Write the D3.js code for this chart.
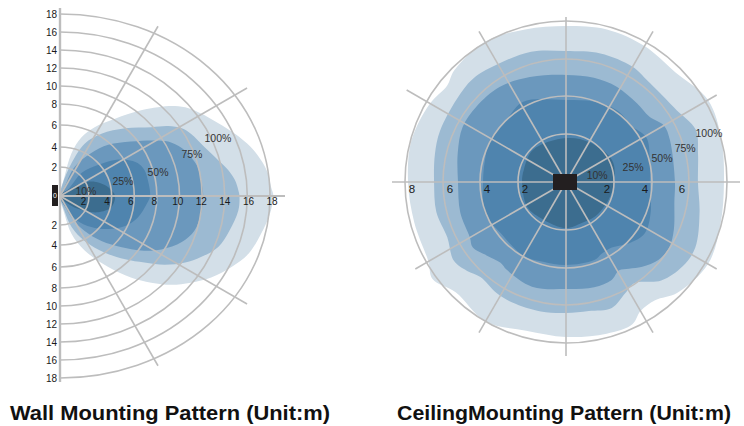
<!DOCTYPE html>
<html><head><meta charset="utf-8">
<script src="https://cdn.jsdelivr.net/npm/d3@7"></script>
<style>body{margin:0;background:#fff} svg{display:block} text{font-family:"Liberation Sans",Arial,Helvetica,sans-serif}</style>
</head><body><svg id="c" width="744" height="426"></svg>
<script>
// ---------- DATA ----------
const levels = ["100%", "75%", "50%", "25%", "10%"];
const levelColors = ["#d3dfe8", "#9cbad2", "#6b98bd", "#4f84ae", "#3c6d8f"];
const titles = ["Wall Mounting Pattern (Unit:m)", "CeilingMounting Pattern (Unit:m)"];

// Wall mounting: contour outlines in metres [x (forward), y (sideways)]
const wall100 = [[0,0],[0.3,1.3],[0.8,3.4],[1.5,4.9],[2.5,5.8],[4.3,6.6],[6.6,7.4],[8.1,7.7],[9.6,7.8],[10.8,7.6],[11.9,7.1],[13.4,6.2],[14.9,5.2],[16.3,4.0],[17.2,2.7],[17.8,1.6],[18.1,0.6],[18.3,0],
  [18.0,-1.2],[17.2,-2.9],[16.1,-4.8],[14.6,-6.0],[12.8,-7.0],[11.0,-7.5],[9.3,-7.7],[7.5,-7.5],[5.7,-7.0],[3.7,-6.0],[1.7,-4.5],[0.8,-2.9],[0.3,-1.2]];
const wall75 = [[0,0],[0.2,0.9],[0.8,2.4],[1.7,4.3],[3.1,5.2],[5.2,5.7],[7.5,5.8],[9.0,5.9],[10.2,5.7],[11.0,5.2],[12.2,4.0],[13.4,2.7],[14.3,1.8],[14.9,1.1],[15.2,0.4],[15.3,0],
  [15.2,-1.0],[14.4,-2.6],[13.4,-4.2],[11.9,-5.1],[10.5,-5.6],[8.7,-5.8],[6.9,-5.6],[5.2,-5.3],[3.4,-4.7],[1.7,-3.6],[0.8,-2.2],[0.3,-1.0]];
const wall50 = [[0,0],[0.3,0.6],[1.0,2.0],[2.2,3.4],[3.7,4.2],[5.7,4.5],[7.8,4.6],[9.0,4.5],[10.2,3.9],[11.0,3.0],[11.6,2.0],[11.9,1.1],[12.1,0],
  [11.9,-1.2],[11.3,-2.6],[10.2,-3.7],[8.4,-4.4],[6.6,-4.5],[4.9,-4.2],[3.1,-3.6],[1.7,-2.6],[0.8,-1.5],[0.3,-0.6]];
const wall25 = [[0,0],[0.6,0.5],[1.5,1.6],[2.8,2.2],[4.3,2.7],[5.4,2.7],[6.3,2.4],[6.9,1.8],[7.2,1.1],[7.4,0],
  [7.1,-0.55],[6.3,-1.5],[5.2,-2.1],[3.7,-2.4],[2.2,-2.2],[1.2,-1.7],[0.55,-1.0]];
const wall10 = [[0,0],[0.55,0.41],[1.47,0.88],[2.5,0.99],[3.39,0.76],[3.97,0.41],[4.3,0],
  [3.97,-0.78],[2.8,-1.12],[1.7,-1.01],[0.78,-0.67]];
const wallRings = [2,4,6,8,10,12,14,16,18];
const wallTicks = [2,4,6,8,10,12,14,16,18];
const wallSpokes = [30,60,-30,-60];
const wallLabelPos = [[13.4,4.82],[11.1,3.3],[8.1,1.66],[5.0,1.03],[1.79,0.34]]; // same order as levels

// Ceiling mounting: contour outlines as [angle deg (ccw from east), radius m]
const ceil100 = [[0,7.84],[15,8.0],[30,8.16],[45,7.68],[60,7.79],[75,7.84],[90,7.74],[105,7.84],[120,8.05],[135,7.84],[141,7.58],[150,7.79],[165,7.95],[180,7.84],[195,7.79],[210,7.89],[216,8.21],[225,7.74],[240,8.0],[255,7.63],[270,7.68],[285,7.79],[295,7.79],[300,7.37],[307,7.32],[315,7.79],[330,8.16],[345,7.95]];
const ceil75 = [[0,6.47],[12,6.63],[22,6.89],[33,6.47],[39,6.37],[51,6.37],[60,6.53],[75,6.53],[90,6.42],[105,6.63],[119,6.68],[132,6.84],[143,6.74],[158,6.68],[168,6.58],[180,6.47],[193,6.53],[205,6.42],[215,6.74],[222,6.53],[228,6.26],[238,6.42],[246,6.47],[259,6.47],[270,6.42],[280,6.42],[290,6.58],[298,6.16],[304,5.95],[314,6.74],[324,7.1],[333,7.16],[347,6.74]];
const ceil50 = [[0,5.24],[22,5.41],[30,5.46],[38,5.08],[48,5.08],[62,5.19],[75,5.19],[90,5.14],[109,5.35],[125,5.62],[140,5.68],[152,5.68],[165,5.41],[180,5.19],[196,5.3],[210,5.35],[215,5.51],[223,5.19],[231,4.97],[236,5.08],[252,5.3],[270,5.14],[285,5.24],[295,5.19],[301,4.92],[306,5.14],[312,5.51],[320,5.89],[328,5.95],[336,5.73],[350,5.3]];
const ceil25 = [[0,3.89],[15,4.05],[29,4.32],[39,4.05],[55,4.11],[71,3.95],[90,3.79],[118,4.27],[134,4.0],[151,4.05],[165,3.89],[180,3.84],[201,4.05],[218,3.84],[240,3.95],[254,3.84],[270,3.84],[290,3.84],[297,3.68],[305,3.68],[316,4.11],[327,4.43],[340,4.22]];
const ceil10 = [[0,2.0],[25,2.16],[60,1.92],[90,1.83],[136,1.92],[164,1.83],[180,1.83],[213,1.92],[239,1.83],[270,1.92],[291,1.83],[310,1.88],[337,1.92]];
const ceilRings = [2,4,6,8];
const ceilTicksRight = [2,4,6];
const ceilTicksLeft = [2,4,6,8];
const ceilSpokes = [0,30,60,90,120,150,180,210,240,270,300,330];
const ceilLabelPos = [[18.7,7.47],[16,6.05],[14,4.7],[12.6,3.09],[12.7,1.33]]; // same order as levels

// ---------- DRAW ----------
const svg = d3.select("#c");
const grid = "#bdbdbd";
const rad = Math.PI / 180;

// ===== Wall chart =====
const W = {cx: 60, cy: 196};
const wx = d3.scaleLinear().domain([0, 2, 18]).range([W.cx, W.cx + 29, W.cx + 210]);
const wy = d3.scaleLinear()
  .domain([-18, -8, -6, -4, -2, 0, 2, 4, 6, 8, 18])
  .range([W.cy + 182, W.cy + 92, W.cy + 71, W.cy + 49, W.cy + 29, W.cy, W.cy - 29, W.cy - 49, W.cy - 71, W.cy - 92, W.cy - 182]);
const wTick = d3.scaleLinear().domain([0, 18]).range([W.cx, W.cx + 212]);

const gw = svg.append("g");
const wallShapes = [wall100, wall75, wall50, wall25, wall10];
const wLine = d3.line().x(d => wx(d[0])).y(d => wy(d[1])).curve(d3.curveCatmullRomClosed.alpha(0.5));
gw.selectAll("path.area").data(wallShapes).join("path")
  .attr("class", "area").attr("d", wLine).attr("fill", (d, i) => levelColors[i]);

// rings (right half ellipses)
gw.selectAll("path.ring").data(wallRings).join("path")
  .attr("class", "ring")
  .attr("d", k => {
    const rx = wx(k) - W.cx, ry = W.cy - wy(k);
    return `M${W.cx},${wy(k)} A${rx},${ry} 0 0 1 ${W.cx},${wy(-k)}`;
  })
  .attr("fill", "none").attr("stroke", grid).attr("stroke-width", 1.6);

// spokes
const wallSpokeLen = a => Math.abs(a) === 30 ? 216 : 196;
gw.selectAll("line.spoke").data(wallSpokes).join("line")
  .attr("x1", W.cx).attr("y1", W.cy)
  .attr("x2", a => W.cx + wallSpokeLen(a) * Math.cos(a * rad))
  .attr("y2", a => W.cy - wallSpokeLen(a) * Math.sin(a * rad))
  .attr("stroke", grid).attr("stroke-width", 1.6);

// axes
gw.append("line").attr("x1", W.cx).attr("x2", W.cx).attr("y1", 8).attr("y2", 382)
  .attr("stroke", grid).attr("stroke-width", 2.4);
gw.append("line").attr("x1", W.cx).attr("x2", W.cx + 225).attr("y1", W.cy).attr("y2", W.cy)
  .attr("stroke", grid).attr("stroke-width", 2);

// y tick labels (both sides)
const wyTicks = wallTicks.concat(wallTicks.map(k => -k));
gw.selectAll("text.yt").data(wyTicks).join("text")
  .attr("x", W.cx - 3).attr("y", k => wy(k)).attr("dy", "0.35em")
  .attr("text-anchor", "end").attr("font-size", 10).attr("fill", "#1a1a1a")
  .text(k => Math.abs(k));
gw.selectAll("text.xt").data(wallTicks).join("text")
  .attr("x", k => wTick(k)).attr("y", W.cy + 5).attr("dy", "0.35em")
  .attr("text-anchor", "middle").attr("font-size", 10).attr("fill", "#1a1a1a")
  .text(k => k);
// origin marker
gw.append("rect").attr("x", W.cx - 8).attr("y", W.cy - 11).attr("width", 6).attr("height", 21).attr("fill", "#231f20");
gw.append("text").attr("x", W.cx - 5).attr("y", W.cy).attr("dy", "0.35em").attr("text-anchor", "middle")
  .attr("font-size", 7).attr("fill", "#fff").text("0");
// level labels
gw.selectAll("text.lv").data(levels).join("text")
  .attr("x", (d, i) => wx(wallLabelPos[i][0])).attr("y", (d, i) => wy(wallLabelPos[i][1])).attr("dy", "0.35em")
  .attr("text-anchor", "middle").attr("font-size", 10.5).attr("fill", "#333").text(d => d);

// ===== Ceiling chart =====
const C = {cx: 566, cy: 182};
const cr = d3.scaleLinear().domain([0, 2, 4, 6, 8]).range([0, 48, 86, 123, 161]);
const gc = svg.append("g");
const gcc = gc.append("g").attr("transform", `translate(${C.cx},${C.cy})`);
const ceilShapes = [ceil100, ceil75, ceil50, ceil25, ceil10];
const cLine = d3.lineRadial().angle(d => (90 - d[0]) * rad).radius(d => cr(d[1])).curve(d3.curveCatmullRomClosed.alpha(0.5));
gcc.selectAll("path.area").data(ceilShapes).join("path")
  .attr("class", "area").attr("d", cLine).attr("fill", (d, i) => levelColors[i]);
gcc.selectAll("circle.ring").data(ceilRings).join("circle")
  .attr("r", k => cr(k)).attr("fill", "none").attr("stroke", grid).attr("stroke-width", 1.6);
const ceilSpokeLen = a => a === 150 ? 184 : (a === 90 ? 165 : 174);
gcc.selectAll("line.spoke").data(ceilSpokes).join("line")
  .attr("x1", 0).attr("y1", 0)
  .attr("x2", a => ceilSpokeLen(a) * Math.cos(a * rad))
  .attr("y2", a => -ceilSpokeLen(a) * Math.sin(a * rad))
  .attr("stroke", grid).attr("stroke-width", 1.6);
gcc.append("rect").attr("x", -13).attr("y", -8).attr("width", 24).attr("height", 16).attr("fill", "#231f20");
gcc.selectAll("text.tr").data(ceilTicksRight).join("text")
  .attr("x", k => cr(k) - 7).attr("y", 6.5).attr("dy", "0.35em")
  .attr("text-anchor", "middle").attr("font-size", 11.5).attr("fill", "#1a1a1a").text(k => k);
gcc.selectAll("text.tl").data(ceilTicksLeft).join("text")
  .attr("x", k => -cr(k) + 7).attr("y", 6.5).attr("dy", "0.35em")
  .attr("text-anchor", "middle").attr("font-size", 11.5).attr("fill", "#1a1a1a").text(k => k);
gcc.selectAll("text.lv").data(levels).join("text")
  .attr("x", (d, i) => cr(ceilLabelPos[i][1]) * Math.cos(ceilLabelPos[i][0] * rad))
  .attr("y", (d, i) => -cr(ceilLabelPos[i][1]) * Math.sin(ceilLabelPos[i][0] * rad))
  .attr("dy", "0.35em").attr("text-anchor", "middle").attr("font-size", 10.5).attr("fill", "#333").text(d => d);

// ===== Titles =====
const titleX = [170, 564], titleW = [320, 334];
svg.selectAll("text.title").data(titles).join("text")
  .attr("x", (d, i) => titleX[i]).attr("y", 420)
  .attr("text-anchor", "middle").attr("font-size", 20.5).attr("font-weight", "bold").attr("fill", "#111")
  .attr("textLength", (d, i) => titleW[i]).attr("lengthAdjust", "spacingAndGlyphs")
  .text(d => d);
</script></body></html>
